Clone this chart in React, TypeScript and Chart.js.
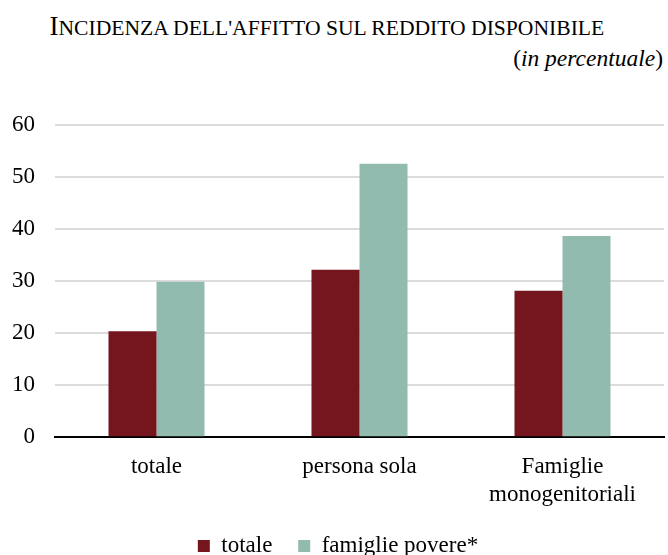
import React, { useEffect, useRef } from "react";
import { Chart, registerables } from "chart.js";

Chart.register(...registerables);

const categories: (string | string[])[] = ["totale", "persona sola", ["Famiglie", "monogenitoriali"]];
const seriesNames = ["totale", "famiglie povere*"];
const totaleValues = [20.4, 32.2, 28.2];
const povereValues = [29.9, 52.6, 38.7];
const yTicks = [0, 10, 20, 30, 40, 50, 60];

const FONT = "'Liberation Serif', 'Times New Roman', Times, serif";

export default function App() {
  const ref = useRef<HTMLCanvasElement | null>(null);

  useEffect(() => {
    if (!ref.current) return;
    const chart = new Chart(ref.current, {
      type: "bar",
      data: {
        labels: categories,
        datasets: [
          {
            label: seriesNames[0],
            data: totaleValues,
            backgroundColor: "#75161F",
            borderWidth: 0,
            barPercentage: 1,
            categoryPercentage: 0.473,
          },
          {
            label: seriesNames[1],
            data: povereValues,
            backgroundColor: "#92BBB0",
            borderWidth: 0,
            barPercentage: 1,
            categoryPercentage: 0.473,
          },
        ],
      },
      options: {
        animation: false,
        responsive: true,
        maintainAspectRatio: false,
        layout: { padding: { top: 125.3, left: 12, right: 4, bottom: 17.5 } },
        plugins: {
          title: { display: false },
          tooltip: { enabled: false },
          legend: {
            display: true,
            position: "bottom",
            labels: {
              boxWidth: 12,
              boxHeight: 12,
              padding: 25.8,
              color: "#000",
              font: { family: FONT, size: 23 },
            },
          },
        },
        scales: {
          x: {
            grid: { display: false, drawTicks: false },
            border: { display: true, color: "#000", width: 2 },
            ticks: {
              color: "#000",
              padding: 15.3,
              font: { family: FONT, size: 23, lineHeight: 1.22 },
            },
            afterFit: (s: any) => {
              s.height = 71.4;
              s.paddingLeft = 0;
              s.paddingRight = 0;
            },
          },
          y: {
            min: yTicks[0],
            max: yTicks[yTicks.length - 1],
            afterBuildTicks: (axis: any) => {
              axis.ticks = yTicks.map((v) => ({ value: v }));
            },
            grid: { color: "#dcdcdc", lineWidth: 2, drawTicks: false },
            border: { display: false },
            ticks: {
              color: "#000",
              padding: 20,
              font: { family: FONT, size: 23 },
            },
            afterFit: (s: any) => {
              s.width = 43;
            },
          },
        },
      },
    });
    return () => chart.destroy();
  }, []);

  return (
    <div
      style={{
        position: "absolute",
        top: 0,
        left: 0,
        width: 668,
        height: 555,
        overflow: "hidden",
        background: "#fff",
      }}
    >
      <div
        style={{
          position: "absolute",
          top: 12.5,
          left: 49.5,
          fontFamily: FONT,
          fontSize: 27,
          lineHeight: 1,
          color: "#000",
          whiteSpace: "nowrap",
        }}
      >
        I
        <span style={{ fontSize: "0.8em", textTransform: "uppercase" }}>
          ncidenza dell'affitto sul reddito disponibile
        </span>
      </div>
      <div
        style={{
          position: "absolute",
          top: 47.2,
          right: 5,
          fontFamily: FONT,
          fontSize: 23.5,
          lineHeight: 1,
          color: "#000",
          whiteSpace: "nowrap",
        }}
      >
        (<i>in percentuale</i>)
      </div>
      <div style={{ position: "absolute", top: 0, left: 0, width: 668, height: 585 }}>
        <canvas ref={ref} />
      </div>
    </div>
  );
}
